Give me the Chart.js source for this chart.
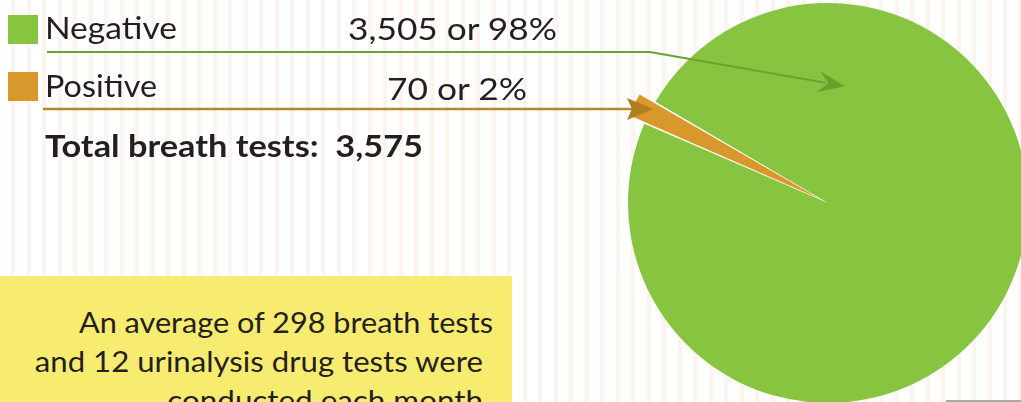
<!DOCTYPE html>
<html>
<head>
<meta charset="utf-8">
<script src="https://cdn.jsdelivr.net/npm/chart.js@4/dist/chart.umd.min.js"></script>
<style>
  html, body { margin: 0; padding: 0; }
  body {
    width: 1021px; height: 402px; overflow: hidden; position: relative;
    background: repeating-linear-gradient(90deg, #ffffff 0px, #ffffff 11px, #fdf4ed 11px, #fdf4ed 15.5px);
    font-family: Lato, "Open Sans", sans-serif; color: #231f20;
  }
  #chart { position: absolute; left: 0; top: 0; z-index: 2; }
  .t { position: absolute; white-space: pre; line-height: 30px; font-size: 30px; z-index: 3; transform-origin: left center; }
  .sq { position: absolute; width: 30px; height: 29px; z-index: 3; }
  #note {
    position: absolute; left: 0; top: 276px; width: 512px; height: 126px;
    background: #f8ec70; z-index: 1; overflow: hidden;
  }
  .nl { position: absolute; font-size: 28px; line-height: 28px; white-space: pre; color: #231f20; transform-origin: right center; }
  #grayline { position: absolute; left: 946px; top: 400px; width: 75px; height: 2px; background: #a8a8a8; z-index: 3; }
</style>
</head>
<body>
<div id="note"></div>
<canvas id="chart" width="1021" height="402"></canvas>
<div id="legend"></div>
<div id="grayline"></div>
<script>
// ---- data ----
const categories = ['Negative', 'Positive'];
const counts = [3505, 70];
const percents = [98, 2];
const totalLabel = 'Total breath tests:';
const totalTests = 3575;
const noteLines = ['An average of 298 breath tests', 'and 12 urinalysis drug tests were', 'conducted each month.'];

// ---- styles ----
const sliceColors = ['#87c540', '#d9982b'];
const lineColors = ['#6aa332', '#b8862c'];
const arrowColors = ['#6c9f2d', '#b07d21'];

// ---- text (HTML) ----
const fitters = [];
const legend = document.getElementById('legend');
function fitWidth(d, width) {
  fitters.push(() => {
    d.style.transform = 'none';
    const w = d.getBoundingClientRect().width;
    if (w > 0) d.style.transform = 'scaleX(' + (width / w) + ')';
  });
}
function addText(txt, left, baseline, width, extra) {
  const d = document.createElement('div');
  d.className = 't';
  d.textContent = txt;
  d.style.left = left + 'px';
  d.style.top = (baseline - 26.6) + 'px';
  if (extra) Object.assign(d.style, extra);
  legend.appendChild(d);
  fitWidth(d, width);
  return d;
}
const sqTops = [15, 72];
const labelBase = [39, 97];
const labelWidth = [132, 112];
const valueLeft = [348, 387];
const valueBase = [40, 100];
const valueWidth = [209, 140];
categories.forEach((c, i) => {
  const s = document.createElement('div');
  s.className = 'sq';
  s.style.left = '8px';
  s.style.top = sqTops[i] + 'px';
  s.style.background = sliceColors[i];
  legend.appendChild(s);
  addText(c, 45, labelBase[i], labelWidth[i]);
  addText(counts[i].toLocaleString('en-US') + ' or ' + percents[i] + '%', valueLeft[i], valueBase[i], valueWidth[i]);
});
addText(totalLabel + '  ' + totalTests.toLocaleString('en-US'), 45, 157, 378, {fontWeight: '700'});

const note = document.getElementById('note');
const noteRight = [493, 483, 490];
const noteWidth = [414, 448, 323];
noteLines.forEach((l, i) => {
  const d = document.createElement('div');
  d.className = 'nl';
  d.textContent = l;
  d.style.right = (512 - noteRight[i]) + 'px';
  d.style.top = (333 + i * 39 - 276 - 24.8) + 'px';
  note.appendChild(d);
  fitWidth(d, noteWidth[i]);
});
function fitAll() { fitters.forEach(f => f()); }
fitAll();
if (document.fonts && document.fonts.ready) document.fonts.ready.then(fitAll);

// ---- leader lines & arrows ----
function arrowHead(ctx, tx, ty, ang, len, hw, notch, color) {
  const cx = Math.cos(ang), sy = Math.sin(ang);
  const px = -sy, py = cx;
  const bx = tx - len * cx, by = ty - len * sy;
  ctx.beginPath();
  ctx.moveTo(tx, ty);
  ctx.lineTo(bx + hw * px, by + hw * py);
  ctx.lineTo(tx - (len - notch) * cx, ty - (len - notch) * sy);
  ctx.lineTo(bx - hw * px, by - hw * py);
  ctx.closePath();
  ctx.fillStyle = color;
  ctx.fill();
}
const leaders = {
  id: 'leaders',
  afterDatasetsDraw(chart) {
    const ctx = chart.ctx;
    const arc = chart.getDatasetMeta(0).data[0];
    const cx = arc.x, cy = arc.y, R = arc.outerRadius;
    ctx.save();
    // Negative
    const gTip = {x: cx + 0.59 * R * Math.cos(-81.7 * Math.PI / 180), y: cy + 0.59 * R * Math.sin(-81.7 * Math.PI / 180)};
    const ang1 = Math.atan2(gTip.y - 52, gTip.x - 650);
    ctx.strokeStyle = lineColors[0];
    ctx.lineWidth = 2.2;
    ctx.beginPath();
    ctx.moveTo(47, 52);
    ctx.lineTo(650, 52);
    ctx.lineTo(gTip.x - 20 * Math.cos(ang1), gTip.y - 20 * Math.sin(ang1));
    ctx.stroke();
    arrowHead(ctx, gTip.x, gTip.y, ang1, 27, 10.5, 10, arrowColors[0]);
    // Positive
    const pTip = {x: cx - 175, y: 109};
    ctx.strokeStyle = lineColors[1];
    ctx.lineWidth = 2.5;
    ctx.beginPath();
    ctx.moveTo(43, 109);
    ctx.lineTo(pTip.x - 20, 109);
    ctx.stroke();
    arrowHead(ctx, pTip.x, pTip.y, 0, 26, 11, 5, arrowColors[1]);
    ctx.restore();
  }
};

new Chart(document.getElementById('chart'), {
  type: 'pie',
  data: {
    labels: categories,
    datasets: [{
      data: counts,
      backgroundColor: sliceColors,
      borderWidth: 0,
      offset: [0, 37],
      radius: 200,
      clip: false
    }]
  },
  options: {
    responsive: false,
    animation: false,
    devicePixelRatio: 1,
    rotation: 300.4,
    events: [],
    layout: { padding: { left: 635, right: 0, top: 4, bottom: 0 } },
    plugins: { legend: { display: false }, tooltip: { enabled: false } }
  },
  plugins: [leaders]
});
</script>
</body>
</html>
